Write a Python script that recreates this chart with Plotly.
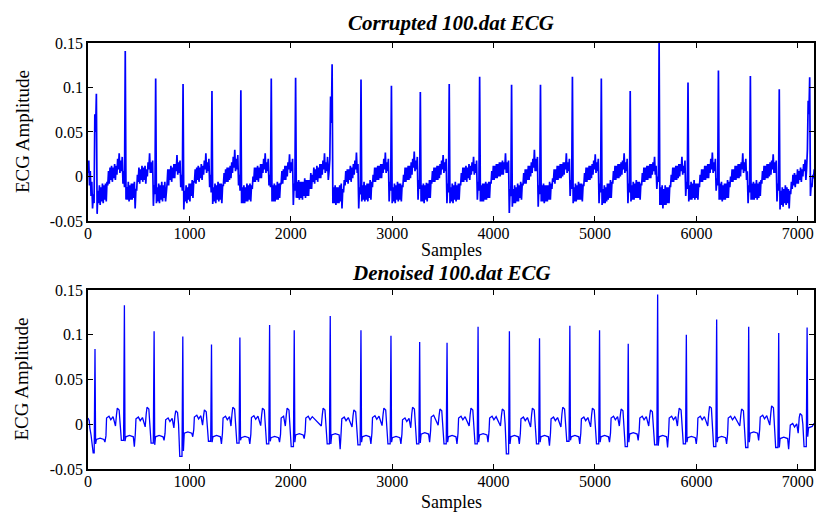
import plotly.graph_objects as go

# ---------------- data ----------------
x_ticks = [0, 1000, 2000, 3000, 4000, 5000, 6000, 7000]
x_ticklabels = ["0", "1000", "2000", "3000", "4000", "5000", "6000", "7000"]
y_ticks = [-0.05, 0, 0.05, 0.1, 0.15]
y_ticklabels = ["-0.05", "0", "0.05", "0.1", "0.15"]
x_end = 7160

# Corrupted ECG, upper panel: lower and upper edge of the noisy trace,
# read in columns of 15 samples (beats marked by their R-peak column)
corrupted_step = 15
corrupted_lo = [
    0.004, -0.010, -0.022, -0.036, -0.030, 0.050,
    -0.042, -0.030, -0.032, -0.028, -0.030, -0.026, -0.028, -0.010, -0.008, -0.004, -0.006, -0.002, -0.004, 0.002, 0.008, 0.004, 0.006, -0.008,
    -0.012,
    -0.026, -0.026, -0.028, -0.026, -0.026, -0.024, -0.036, -0.016, -0.006, -0.008, -0.004, -0.006, -0.004, -0.008, 0.000, 0.008, 0.004, 0.004, -0.033,
    -0.020,
    -0.030, -0.028, -0.030, -0.026, -0.028, -0.024, -0.028, -0.008, -0.010, -0.004, -0.006, -0.002, -0.002, 0.006, 0.002, 0.004, -0.012,
    -0.016,
    -0.037, -0.028, -0.030, -0.026, -0.028, -0.022, -0.024, -0.006, -0.008, -0.004, -0.006, -0.002, -0.004, 0.002, 0.008, 0.004, 0.006, -0.012,
    -0.018,
    -0.031, -0.028, -0.030, -0.026, -0.028, -0.026, -0.030, -0.010, -0.008, -0.006, -0.006, -0.004, -0.002, 0.004, 0.010, 0.006, 0.008, -0.010,
    -0.016,
    -0.030, -0.030, -0.030, -0.028, -0.028, -0.026, -0.028, -0.014, -0.006, -0.006, -0.004, -0.006, -0.002, -0.002, 0.004, 0.008, 0.004, 0.006, -0.010,
    -0.012,
    -0.028, -0.028, -0.028, -0.026, -0.026, -0.024, -0.008, -0.008, -0.004, -0.004, 0.000, 0.008, 0.004, 0.006, -0.032,
    -0.016,
    -0.024, -0.024, -0.026, -0.024, -0.026, -0.022, -0.024, -0.022, -0.022, -0.014, -0.014, -0.006, -0.008, -0.004, -0.006, -0.002, -0.002, 0.002, 0.008, 0.004, 0.006, -0.004, 0.020,
    0.060,
    -0.030, -0.030, -0.032, -0.030, -0.030, -0.028, -0.036, -0.018, -0.010, -0.006, -0.008, -0.004, -0.006, -0.002, 0.002, 0.008, 0.004, -0.036,
    -0.020,
    -0.028, -0.026, -0.028, -0.026, -0.028, -0.024, -0.026, -0.012, -0.006, -0.006, -0.004, -0.004, -0.002, -0.002, 0.004, 0.008, 0.004, 0.006, -0.028,
    -0.016,
    -0.030, -0.028, -0.030, -0.026, -0.028, -0.026, -0.028, -0.012, -0.006, -0.006, -0.004, -0.004, -0.002, 0.002, 0.010, 0.006, 0.008, -0.026,
    -0.014,
    -0.028, -0.028, -0.030, -0.026, -0.028, -0.024, -0.024, -0.008, -0.006, -0.006, -0.004, -0.004, -0.002, 0.002, 0.008, 0.004, 0.006, -0.030,
    -0.018,
    -0.030, -0.028, -0.030, -0.026, -0.028, -0.026, -0.026, -0.010, -0.006, -0.006, -0.004, -0.006, -0.002, -0.004, 0.002, 0.006, 0.002, 0.004, -0.026,
    -0.016,
    -0.028, -0.028, -0.028, -0.026, -0.026, -0.024, -0.024, -0.008, -0.004, -0.004, -0.002, -0.002, 0.000, 0.000, 0.002, 0.002, 0.008, 0.004, 0.004, -0.041,
    -0.022,
    -0.034, -0.030, -0.030, -0.028, -0.028, -0.024, -0.026, -0.010, -0.008, -0.008, -0.004, -0.004, 0.000, 0.004, 0.010, 0.006, 0.006, -0.034,
    -0.020,
    -0.028, -0.028, -0.030, -0.028, -0.028, -0.026, -0.026, -0.014, -0.006, -0.008, -0.004, -0.004, -0.002, -0.002, 0.000, 0.002, 0.008, 0.004, 0.006, -0.022,
    -0.014,
    -0.030, -0.028, -0.028, -0.026, -0.026, -0.026, -0.028, -0.010, -0.006, -0.006, -0.004, -0.004, -0.002, 0.002, 0.008, 0.004, 0.006, -0.030,
    -0.018,
    -0.032, -0.030, -0.030, -0.028, -0.026, -0.024, -0.024, -0.008, -0.004, -0.004, -0.002, -0.002, 0.000, 0.002, 0.008, 0.004, 0.006, -0.030,
    -0.018,
    -0.028, -0.026, -0.026, -0.024, -0.024, -0.024, -0.026, -0.010, -0.006, -0.006, -0.004, -0.004, -0.002, -0.002, 0.002, 0.006, 0.002, -0.014,
    -0.006,
    -0.032, -0.032, -0.036, -0.032, -0.032, -0.030, -0.030, -0.012, -0.006, -0.006, -0.004, -0.004, -0.002, 0.000, 0.006, 0.002, 0.004, -0.022,
    -0.014,
    -0.028, -0.026, -0.026, -0.024, -0.026, -0.024, -0.026, -0.012, -0.006, -0.006, -0.004, -0.004, -0.002, -0.002, 0.004, 0.008, 0.004, 0.006, -0.016,
    -0.010,
    -0.026, -0.026, -0.028, -0.026, -0.026, -0.024, -0.024, -0.012, -0.006, -0.006, -0.004, -0.004, -0.002, -0.002, 0.000, 0.008, 0.004, 0.006, -0.004, -0.030,
    -0.018,
    -0.026, -0.026, -0.026, -0.024, -0.026, -0.024, -0.022, -0.008, -0.004, -0.004, -0.002, -0.002, 0.000, 0.002, 0.008, 0.004, 0.004, -0.028,
    -0.016,
    -0.037, -0.032, -0.034, -0.030, -0.032, -0.030, -0.036, -0.020, -0.014, -0.010, -0.012, -0.008, -0.008, -0.004, -0.006, 0.000, 0.006, -0.004, 0.030,
    0.070,
    -0.022, -0.012, -0.002, -0.006,
]
corrupted_hi = [
    0.018, 0.006, -0.006, -0.020, 0.070, 0.093,
    -0.016, -0.010, -0.012, -0.008, -0.010, -0.008, -0.006, 0.006, 0.010, 0.012, 0.010, 0.014, 0.012, 0.020, 0.026, 0.018, 0.022, 0.006,
    0.141,
    -0.012, -0.006, -0.010, -0.008, -0.008, -0.006, -0.014, 0.002, 0.010, 0.008, 0.012, 0.010, 0.012, 0.008, 0.016, 0.026, 0.016, 0.018, -0.010,
    0.110,
    -0.012, -0.008, -0.010, -0.006, -0.010, -0.006, -0.010, 0.008, 0.008, 0.012, 0.010, 0.014, 0.014, 0.024, 0.016, 0.018, 0.002,
    0.104,
    -0.016, -0.010, -0.012, -0.008, -0.008, -0.004, -0.006, 0.008, 0.010, 0.012, 0.010, 0.014, 0.012, 0.018, 0.026, 0.016, 0.020, 0.002,
    0.096,
    -0.012, -0.008, -0.010, -0.006, -0.008, -0.008, -0.010, 0.004, 0.008, 0.010, 0.010, 0.012, 0.016, 0.022, 0.030, 0.020, 0.024, 0.002,
    0.097,
    -0.012, -0.010, -0.012, -0.008, -0.010, -0.008, -0.010, 0.000, 0.010, 0.010, 0.012, 0.010, 0.014, 0.014, 0.020, 0.026, 0.016, 0.020, 0.002,
    0.110,
    -0.010, -0.008, -0.010, -0.006, -0.008, -0.008, 0.006, 0.008, 0.012, 0.012, 0.016, 0.025, 0.016, 0.020, -0.008,
    0.111,
    -0.006, -0.004, -0.006, -0.006, -0.006, -0.002, -0.004, -0.004, -0.004, 0.004, 0.002, 0.010, 0.008, 0.012, 0.010, 0.014, 0.014, 0.018, 0.026, 0.016, 0.022, 0.006, 0.090,
    0.126,
    -0.012, -0.010, -0.012, -0.012, -0.010, -0.008, -0.014, -0.004, 0.006, 0.008, 0.008, 0.012, 0.010, 0.014, 0.018, 0.027, 0.014, -0.012,
    0.109,
    -0.010, -0.006, -0.010, -0.008, -0.008, -0.004, -0.006, 0.002, 0.010, 0.010, 0.012, 0.012, 0.014, 0.014, 0.020, 0.027, 0.016, 0.020, -0.006,
    0.102,
    -0.012, -0.008, -0.010, -0.006, -0.008, -0.008, -0.010, 0.002, 0.010, 0.010, 0.012, 0.012, 0.016, 0.020, 0.028, 0.018, 0.022, -0.004,
    0.095,
    -0.010, -0.008, -0.010, -0.007, -0.008, -0.004, -0.004, 0.006, 0.010, 0.010, 0.012, 0.012, 0.014, 0.018, 0.024, 0.016, 0.020, -0.008,
    0.104,
    -0.012, -0.008, -0.010, -0.006, -0.010, -0.008, -0.008, 0.004, 0.010, 0.010, 0.012, 0.010, 0.014, 0.012, 0.016, 0.022, 0.014, 0.018, -0.006,
    0.112,
    -0.010, -0.008, -0.008, -0.006, -0.008, -0.006, -0.006, 0.006, 0.012, 0.012, 0.014, 0.014, 0.016, 0.016, 0.018, 0.016, 0.026, 0.016, 0.018, -0.014,
    0.103,
    -0.014, -0.010, -0.012, -0.008, -0.010, -0.006, -0.008, 0.004, 0.008, 0.008, 0.012, 0.012, 0.016, 0.020, 0.030, 0.020, 0.022, -0.010,
    0.103,
    -0.010, -0.008, -0.010, -0.010, -0.010, -0.006, -0.008, -0.002, 0.008, 0.008, 0.012, 0.012, 0.014, 0.014, 0.016, 0.016, 0.026, 0.016, 0.020, -0.004,
    0.112,
    -0.012, -0.008, -0.010, -0.006, -0.008, -0.008, -0.010, 0.004, 0.010, 0.010, 0.012, 0.012, 0.014, 0.018, 0.025, 0.016, 0.020, -0.008,
    0.110,
    -0.014, -0.010, -0.012, -0.008, -0.008, -0.004, -0.006, 0.006, 0.012, 0.012, 0.014, 0.014, 0.016, 0.018, 0.026, 0.016, 0.020, -0.008,
    0.096,
    -0.010, -0.006, -0.008, -0.004, -0.006, -0.006, -0.008, 0.004, 0.010, 0.010, 0.012, 0.012, 0.014, 0.014, 0.016, 0.022, 0.012, 0.000,
    0.152,
    -0.012, -0.010, -0.014, -0.010, -0.012, -0.012, -0.010, 0.002, 0.010, 0.010, 0.012, 0.012, 0.014, 0.014, 0.022, 0.012, 0.018, -0.006,
    0.1055,
    -0.010, -0.006, -0.008, -0.004, -0.008, -0.008, -0.008, 0.002, 0.008, 0.008, 0.012, 0.012, 0.014, 0.014, 0.020, 0.027, 0.016, 0.020, -0.002,
    0.119,
    -0.008, -0.006, -0.010, -0.008, -0.008, -0.004, -0.006, 0.000, 0.008, 0.008, 0.012, 0.012, 0.014, 0.014, 0.016, 0.026, 0.016, 0.020, 0.006, -0.010,
    0.113,
    -0.008, -0.006, -0.008, -0.004, -0.008, -0.006, -0.004, 0.006, 0.012, 0.012, 0.014, 0.014, 0.016, 0.018, 0.025, 0.016, 0.018, -0.008,
    0.098,
    -0.016, -0.012, -0.014, -0.010, -0.012, -0.014, -0.016, -0.006, 0.002, 0.004, 0.002, 0.008, 0.006, 0.010, 0.008, 0.014, 0.019, 0.010, 0.085,
    0.1115,
    -0.008, 0.002, 0.008, 0.004,
]
assert len(corrupted_lo) == len(corrupted_hi)
corrupted_x, corrupted_y = [], []
for i, (lo, hi) in enumerate(zip(corrupted_lo, corrupted_hi)):
    corrupted_x += [i * corrupted_step, i * corrupted_step + corrupted_step / 2]
    corrupted_y += [lo, hi]

# Denoised ECG: beat landmarks
den_r_pos = [69, 359, 652, 935, 1218, 1498, 1791, 2034, 2389, 2692, 2988, 3271, 3541,
             3847, 4156, 4453, 4752, 5045, 5328, 5618, 5901, 6200, 6516, 6812, 7092]
den_r_amp = [0.084, 0.133, 0.104, 0.098, 0.089, 0.097, 0.111, 0.105, 0.121, 0.105, 0.099, 0.092, 0.091,
             0.109, 0.104, 0.096, 0.110, 0.105, 0.090, 0.145, 0.100, 0.117, 0.109, 0.102, 0.108]
den_q = [-0.032, -0.018, -0.021, -0.036, -0.019, -0.021, -0.022, -0.025, -0.022, -0.023, -0.022, -0.022, -0.022,
         -0.022, -0.033, -0.022, -0.019, -0.022, -0.025, -0.023, -0.022, -0.025, -0.026, -0.026, -0.025]
den_p = [0.000, 0.018, 0.019, 0.015, 0.016, 0.019, 0.018, 0.018, 0.018, 0.016, 0.018, 0.019, 0.017,
         0.018, 0.017, 0.018, 0.019, 0.018, 0.017, 0.016, 0.018, 0.020, 0.017, 0.0205, 0.012]
den_s = [-0.022, -0.019, -0.023, -0.030, -0.020, -0.018, -0.019, -0.020, -0.022, -0.020, -0.020, -0.021, -0.020,
         -0.020, -0.022, -0.020, -0.018, -0.020, -0.020, -0.024, -0.020, -0.020, -0.020, -0.026, -0.014]
den_st = [-0.017, -0.014, -0.014, -0.010, -0.014, -0.015, -0.015, -0.012, -0.012, -0.014, -0.015, -0.011, -0.014,
          -0.012, -0.014, -0.014, -0.014, -0.014, -0.011, -0.014, -0.015, -0.015, -0.010, -0.016, -0.004]
den_st_dip = [-0.020, -0.025, -0.018, -0.014, -0.022, -0.022, -0.020, -0.016, -0.028, -0.022, -0.022, -0.020, -0.022,
              -0.020, -0.022, -0.024, -0.022, -0.020, -0.018, -0.026, -0.022, -0.022, -0.018, -0.028, -0.004]
den_t = [0.007, 0.006, 0.005, 0.008, 0.007, 0.0075, 0.007, 0.007, 0.006, 0.0075, 0.005, 0.008, 0.007,
         0.007, 0.006, 0.006, 0.006, 0.007, 0.007, 0.007, 0.007, 0.007, 0.008, -0.001, 0.000]
den_start_x = [0, 12, 18, 30]
den_start_y = [0.007, 0.004, -0.004, -0.012]
den_end_y = 0.001

# ---------------- build the denoised polyline from landmarks ----------------
den_x, den_y = [], []


def add(x, y):
    den_x.append(x)
    den_y.append(y)


for x, y in zip(den_start_x, den_start_y):
    add(x, y)
n_beats = len(den_r_pos)
for k in range(n_beats):
    R = den_r_pos[k]
    if k > 0:
        p = den_p[k]
        for off, val in [(-88, den_t[k - 1] - 0.009), (-78, p * 0.6), (-70, p),
                         (-52, p - 0.002), (-42, 0.0)]:
            add(R + off, val)
        add(R - 30, den_q[k])
    add(R - 18, den_q[k])
    add(R - 8, den_q[k])
    add(R, den_r_amp[k])
    add(R + 6, den_s[k])
    st, t = den_st[k], den_t[k]
    after = [(14, st), (50, st + 0.0015), (88, st), (98, den_st_dip[k]), (108, st + 0.004),
             (114, t), (138, t + 0.002), (156, t - 0.002), (178, t + 0.0015)]
    if k < n_beats - 1:
        D = den_r_pos[k + 1] - R
        for off, val in after:
            if off < D - 95:
                add(R + off, val)
    else:
        for off, val in after:
            if off <= 50:
                add(R + off, val)
add(x_end, den_end_y)

# ---------------- figure ----------------
FONT = "Liberation Serif, Times New Roman, serif"
BLUE = "#0000ff"

fig = go.Figure()
fig.add_trace(go.Scatter(x=corrupted_x, y=corrupted_y, mode="lines",
                         line=dict(color=BLUE, width=1.7), xaxis="x", yaxis="y",
                         showlegend=False, hoverinfo="skip"))
fig.add_trace(go.Scatter(x=den_x, y=den_y, mode="lines",
                         line=dict(color=BLUE, width=1.3), xaxis="x2", yaxis="y2",
                         showlegend=False, hoverinfo="skip"))

common = dict(showline=True, linecolor="black", linewidth=1.5, mirror="ticks",
              ticks="inside", ticklen=5, tickwidth=1, tickcolor="black",
              showgrid=False, zeroline=False, automargin=False,
              tickfont=dict(family=FONT, size=16, color="black"))

fig.update_layout(
    width=818, height=514,
    margin=dict(l=88, r=4, t=43, b=45, autoexpand=False),
    paper_bgcolor="white", plot_bgcolor="white",
    xaxis=dict(domain=[0, 1], anchor="y", range=[0, x_end], ticklabelstandoff=-3,
               tickvals=x_ticks, ticktext=x_ticklabels, **common),
    yaxis=dict(domain=[0.5822, 1], anchor="x", range=[-0.05, 0.15],
               tickvals=y_ticks, ticktext=y_ticklabels, **common),
    xaxis2=dict(domain=[0, 1], anchor="y2", range=[0, x_end], ticklabelstandoff=-3,
                tickvals=x_ticks, ticktext=x_ticklabels, **common),
    yaxis2=dict(domain=[0, 0.4202], anchor="x2", range=[-0.05, 0.15],
                tickvals=y_ticks, ticktext=y_ticklabels, **common),
)

ann_font = dict(family=FONT, size=18, color="black")
ylab_font = dict(family=FONT, size=19, color="black")
title_font = dict(family=FONT, size=21, color="black")
annotations = [
    dict(text="<b><i>Corrupted 100.dat ECG</i></b>", x=0.5, y=1.047, font=title_font),
    dict(text="<b><i>Denoised 100.dat ECG</i></b>", x=0.5, y=0.459, font=title_font),
    dict(text="Samples", x=0.5, y=0.515, font=ann_font),
    dict(text="Samples", x=0.5, y=-0.0775, font=ann_font),
    dict(text="ECG Amplitude", x=-0.0909, y=0.791, textangle=-90, font=ylab_font),
    dict(text="ECG Amplitude", x=-0.0909, y=0.210, textangle=-90, font=ylab_font),
]
for a in annotations:
    a.update(xref="paper", yref="paper", showarrow=False, xanchor="center", yanchor="middle")
fig.update_layout(annotations=annotations)

fig.write_html("out.html", config={"displayModeBar": False},
               post_script="document.body.style.margin='0';document.body.style.padding='0';")
